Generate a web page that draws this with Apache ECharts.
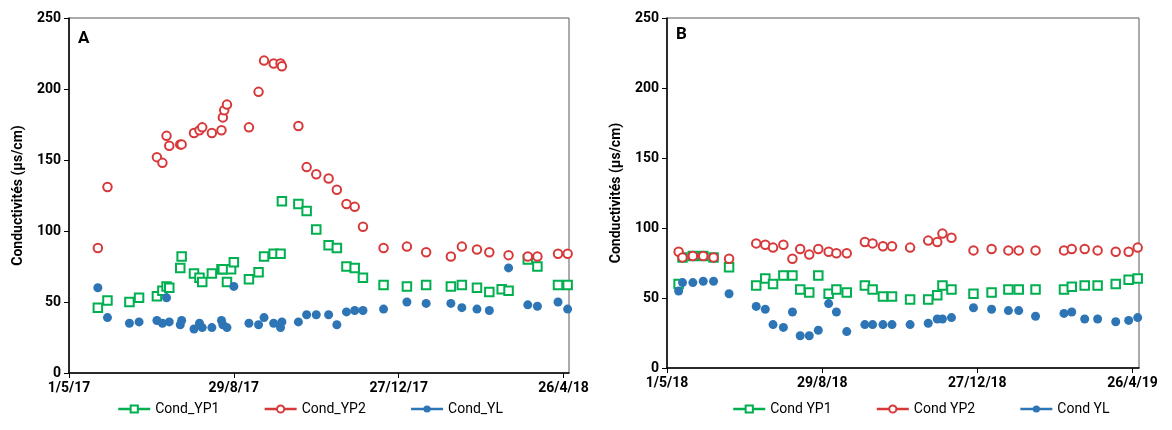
<!DOCTYPE html>
<html>
<head>
<meta charset="utf-8">
<script src="https://cdn.jsdelivr.net/npm/echarts@6/dist/echarts.min.js"></script>
<style>
  html, body { margin: 0; padding: 0; background: #fff; }
  #chart { width: 1172px; height: 430px; }
</style>
</head>
<body>
<div id="chart"></div>
<script>
// panel A : 2017-2018
const startA = '2017-05-01'
const datesA = ['2017-05-22', '2017-05-29', '2017-06-14', '2017-06-21', '2017-07-04', '2017-07-08', '2017-07-11', '2017-07-13',
  '2017-07-21', '2017-07-22', '2017-07-31', '2017-08-04', '2017-08-06', '2017-08-13', '2017-08-20', '2017-08-21', '2017-08-22',
  '2017-08-24', '2017-08-27', '2017-08-29', '2017-09-09', '2017-09-16', '2017-09-20', '2017-09-27', '2017-10-02', '2017-10-03',
  '2017-10-15', '2017-10-21', '2017-10-28', '2017-11-06', '2017-11-12', '2017-11-19', '2017-11-25', '2017-12-01', '2017-12-16',
  '2018-01-02', '2018-01-16', '2018-02-03', '2018-02-11', '2018-02-22', '2018-03-03', '2018-03-12', '2018-03-17', '2018-03-31',
  '2018-04-07', '2018-04-22', '2018-04-29']
const yp1A = [46, 51, 50, 53, 54, 58, 61, 60, 74, 82, 70, 67, 64, 70, 73, 73, null,
  64, 73, 78, 66, 71, 82, 84, 84, 121, 119, 114, 101, 90, 88, 75, 74, 67, 62,
  61, 62, 61, 62, 60, 57, 59, 58, 80, 75, 62, 62]
const yp2A = [88, 131, null, null, 152, 148, 167, 160, 161, 161, 169, 171, 173, 169, 171, 180, 185,
  189, null, null, 173, 198, 220, 218, 218, 216, 174, 145, 140, 137, 129, 119, 117, 103, 88,
  89, 85, 82, 89, 87, 85, null, 83, 82, 82, 84, 84]
const ylA = [60, 39, 35, 36, 37, 35, 53, 36, 34, 37, 31, 35, 32, 32, 37, 34, null,
  32, null, 61, 35, 34, 39, 35, 32, 36, 36, 41, 41, 41, 34, 43, 44, 44, 45,
  50, 49, 49, 46, 45, 44, null, 74, 48, 47, 50, 45]

// panel B : 2018-2019
const startB = '2018-05-01'
const datesB = ['2018-05-10', '2018-05-13', '2018-05-21', '2018-05-29', '2018-06-06', '2018-06-18', '2018-07-09', '2018-07-16',
  '2018-07-22', '2018-07-30', '2018-08-06', '2018-08-12', '2018-08-19', '2018-08-26', '2018-09-03', '2018-09-09', '2018-09-17',
  '2018-10-01', '2018-10-07', '2018-10-15', '2018-10-22', '2018-11-05', '2018-11-19', '2018-11-26', '2018-11-30', '2018-12-07',
  '2018-12-24', '2019-01-07', '2019-01-20', '2019-01-28', '2019-02-10', '2019-03-04', '2019-03-10', '2019-03-20', '2019-03-30',
  '2019-04-13', '2019-04-23', '2019-04-30']
const yp1B = [60, 79, 80, 80, 79, 72, 59, 64, 60, 66, 66, 56, 54, 66, 53, 56, 54,
  59, 56, 51, 51, 49, 49, 52, 59, 56, 53, 54, 56, 56, 56, 56, 58, 59, 59, 60, 63, 64]
const yp2B = [83, 79, 80, 80, 79, 78, 89, 88, 86, 88, 78, 85, 81, 85, 83, 82, 82,
  90, 89, 87, 87, 86, 91, 90, 96, 93, 84, 85, 84, 84, 84, 84, 85, 85, 84, 83, 83, 86]
const ylB = [55, 61, 61, 62, 62, 53, 44, 42, 31, 29, 40, 23, 23, 27, 46, 40, 26,
  31, 31, 31, 31, 31, 32, 35, 35, 36, 43, 42, 41, 41, 37, 39, 40, 35, 35, 33, 34, 36]

const yTicks = { min: 0, max: 250, interval: 50 }
const DAY = 86400000
const GREEN = '#00b050'
const RED = '#d7393a'
const BLUE = '#2e75b6'
const FONT = 'Roboto'

function toPairs(start, dates, vals) {
  const t0 = Date.parse(start)
  return dates
    .map((d, i) => [(Date.parse(d) - t0) / DAY, vals[i]])
    .filter(p => p[1] !== null)
}

function dayLabel(start) {
  return (v) => {
    const d = new Date(Date.parse(start) + v * DAY)
    return d.getUTCDate() + '/' + (d.getUTCMonth() + 1) + '/' + String(d.getUTCFullYear()).slice(2)
  }
}

function xAxis(idx, start, max) {
  return {
    type: 'value',
    gridIndex: idx,
    min: 0,
    max: max,
    interval: 120,
    axisLine: { show: true, onZero: false, lineStyle: { color: '#000', width: 1.5 } },
    axisTick: { show: true, length: 5, lineStyle: { color: '#000' } },
    splitLine: { show: false },
    axisLabel: {
      formatter: dayLabel(start),
      showMaxLabel: false,
      color: '#000',
      fontFamily: FONT,
      fontWeight: 'bold',
      fontSize: 14,
      margin: 8
    }
  }
}

function yAxis(idx) {
  return {
    type: 'value',
    gridIndex: idx,
    min: yTicks.min,
    max: yTicks.max,
    interval: yTicks.interval,
    name: 'Conductivités (µs/cm)',
    nameLocation: 'middle',
    nameGap: 44,
    nameTextStyle: { color: '#000', fontFamily: FONT, fontWeight: 'bold', fontSize: 14 },
    axisLine: { show: true, lineStyle: { color: '#000', width: 1.5 } },
    axisTick: { show: true, length: 5, lineStyle: { color: '#000' } },
    splitLine: { show: false },
    axisLabel: { color: '#000', fontFamily: FONT, fontWeight: 'bold', fontSize: 14, margin: 8 }
  }
}

function series(name, idx, data, symbol, color, size) {
  return {
    name: name,
    type: 'line',
    xAxisIndex: idx,
    yAxisIndex: idx,
    data: data,
    symbol: symbol,
    symbolSize: size,
    showSymbol: true,
    showAllSymbol: true,
    lineStyle: { opacity: 0 },
    itemStyle: { color: color, borderWidth: 1.4 },
    emphasis: { disabled: true }
  }
}

function legend(left, names) {
  return {
    left: left,
    top: 397,
    data: names,
    itemWidth: 32,
    itemHeight: 9,
    itemGap: 44,
    lineStyle: { opacity: 1, width: 2.5 },
    textStyle: { color: '#000', fontFamily: FONT, fontSize: 14 }
  }
}

const chart = echarts.init(document.getElementById('chart'))
chart.setOption({
  animation: false,
  backgroundColor: '#fff',
  grid: [
    { left: 69, top: 18, width: 500, height: 355, show: true, borderColor: '#595959', borderWidth: 1 },
    { left: 667, top: 18, width: 472, height: 350, show: true, borderColor: '#595959', borderWidth: 1 }
  ],
  xAxis: [xAxis(0, startA, 364), xAxis(1, startB, 365)],
  yAxis: [yAxis(0), yAxis(1)],
  legend: [
    legend(112, ['Cond_YP1', 'Cond_YP2', 'Cond_YL']),
    legend(727, ['Cond YP1', 'Cond YP2', 'Cond YL'])
  ],
  graphic: [
    { type: 'text', left: 78, top: 30, style: { text: 'A', fill: '#000', font: 'bold 17px ' + FONT } },
    { type: 'text', left: 676, top: 26, style: { text: 'B', fill: '#000', font: 'bold 17px ' + FONT } }
  ],
  series: [
    series('Cond_YP1', 0, toPairs(startA, datesA, yp1A), 'emptyRect', GREEN, 8.5),
    series('Cond_YP2', 0, toPairs(startA, datesA, yp2A), 'emptyCircle', RED, 8.5),
    series('Cond_YL', 0, toPairs(startA, datesA, ylA), 'circle', BLUE, 9),
    series('Cond YP1', 1, toPairs(startB, datesB, yp1B), 'emptyRect', GREEN, 8.5),
    series('Cond YP2', 1, toPairs(startB, datesB, yp2B), 'emptyCircle', RED, 8.5),
    series('Cond YL', 1, toPairs(startB, datesB, ylB), 'circle', BLUE, 9)
  ]
})
</script>
</body>
</html>
